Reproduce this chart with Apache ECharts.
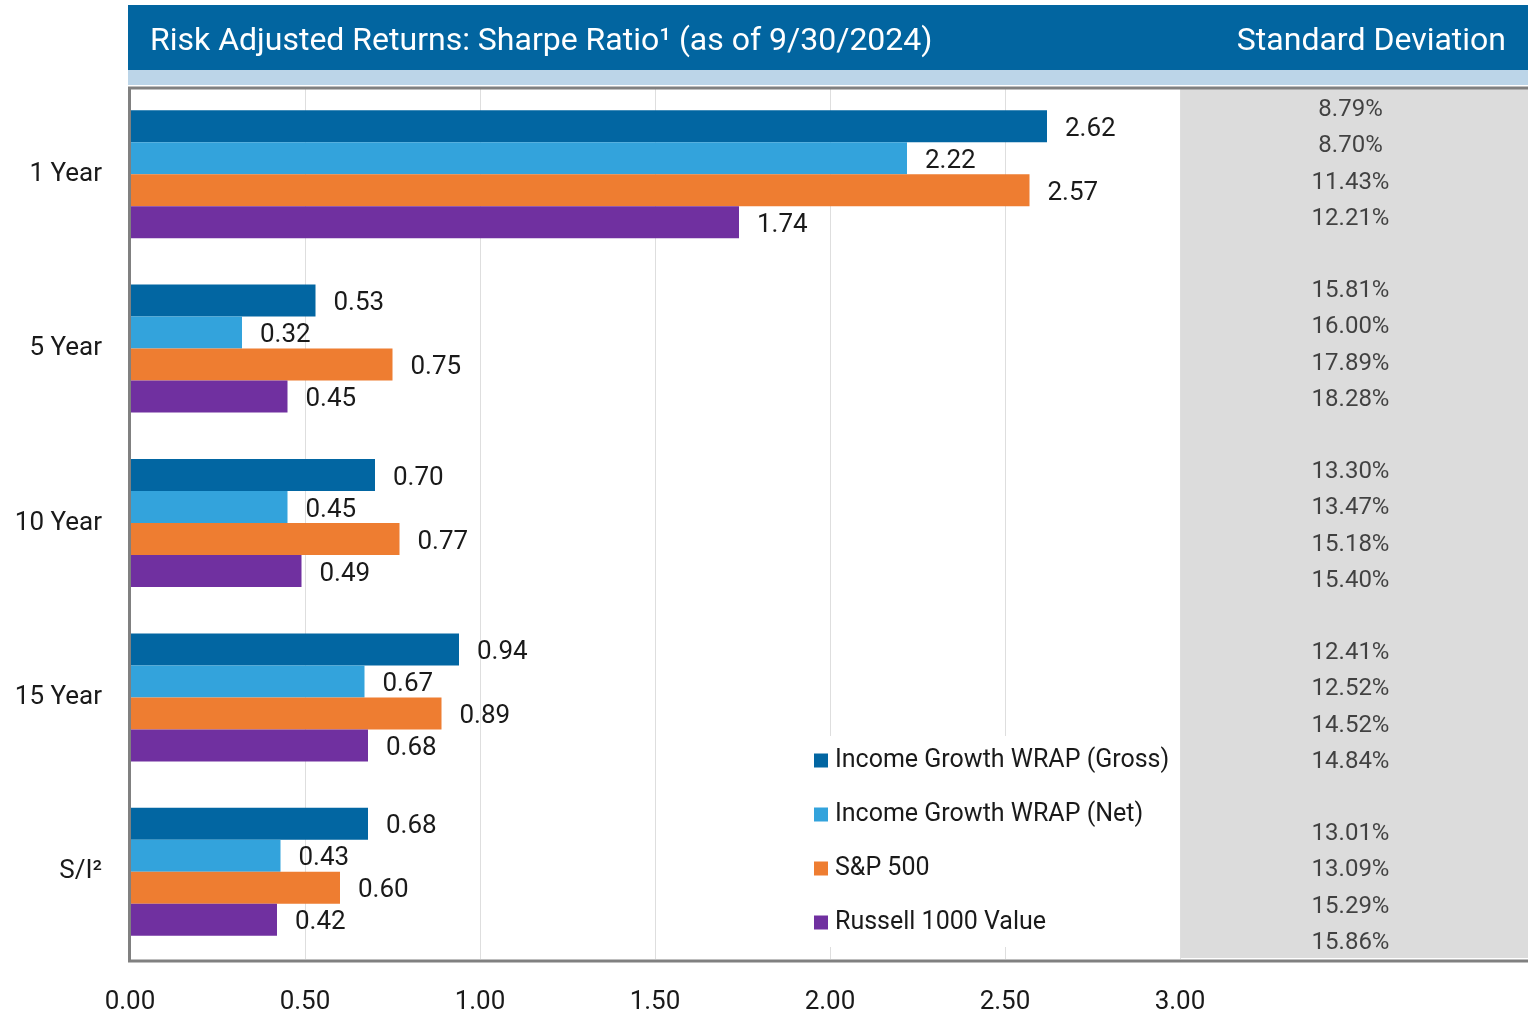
<!DOCTYPE html>
<html>
<head>
<meta charset="utf-8">
<style>
  html, body { margin: 0; padding: 0; background: #fff; }
  #chart { width: 1528px; height: 1015px; }
</style>
<script src="https://cdn.jsdelivr.net/npm/echarts@6/dist/echarts.min.js"></script>
</head>
<body>
<div id="chart"></div>
<script>
  // periods, top to bottom
  var categories = ['1 Year', '5 Year', '10 Year', '15 Year', 'S/I²']
  var seriesNames = ['Income Growth WRAP (Gross)', 'Income Growth WRAP (Net)', 'S&P 500', 'Russell 1000 Value']
  var colors = ['#0266a2', '#33a3dc', '#ee7d31', '#7030a0']

  // sharpe ratio
  var sharpeGross = [2.62, 0.53, 0.70, 0.94, 0.68]
  var sharpeNet = [2.22, 0.32, 0.45, 0.67, 0.43]
  var sharpeSP = [2.57, 0.75, 0.77, 0.89, 0.60]
  var sharpeRussell = [1.74, 0.45, 0.49, 0.68, 0.42]

  // standard deviation (%)
  var stdGross = [8.79, 15.81, 13.30, 12.41, 13.01]
  var stdNet = [8.70, 16.00, 13.47, 12.52, 13.09]
  var stdSP = [11.43, 17.89, 15.18, 14.52, 15.29]
  var stdRussell = [12.21, 18.28, 15.40, 14.84, 15.86]

  var xTicks = [0, 0.5, 1, 1.5, 2, 2.5, 3]

  var sharpe = [sharpeGross, sharpeNet, sharpeSP, sharpeRussell]
  var stdDev = [stdGross, stdNet, stdSP, stdRussell]

  var font = 'Roboto, "Noto Sans", sans-serif'
  var chart = echarts.init(document.getElementById('chart'))

  // right column: 4 values per period, one blank row between periods
  var slots = []
  var stdPoints = []
  categories.forEach(function(c, ci) {
    var n = ci < categories.length - 1 ? 5 : 4
    for (var k = 0; k < n; k++) slots.push(c + '_' + k)
    stdDev.forEach(function(arr, si) {
      stdPoints.push({ value: [0.49, ci * 5 + si], txt: arr[ci].toFixed(2) + '%' })
    })
  })

  var barSeries = sharpe.map(function(arr, i) {
    return {
      name: seriesNames[i],
      type: 'bar',
      xAxisIndex: 0,
      yAxisIndex: 0,
      barWidth: 32,
      barGap: '0%',
      itemStyle: { color: colors[i] },
      label: {
        show: true,
        position: 'right',
        distance: 18,
        offset: [0, 3],
        fontFamily: font,
        fontSize: 26,
        color: '#1a1a1a',
        formatter: function(p) { return p.value.toFixed(2) }
      },
      data: arr
    }
  })

  chart.setOption({
    animation: false,
    textStyle: { fontFamily: font },
    graphic: [
      { type: 'rect', shape: { x: 128, y: 5, width: 1400, height: 65 }, style: { fill: '#0265a0' }, z: 10 },
      { type: 'rect', shape: { x: 128, y: 70, width: 1400, height: 15 }, style: { fill: '#bcd5e8' }, z: 10 },
      {
        type: 'text', left: 150, top: 26, z: 11,
        style: { text: 'Risk Adjusted Returns: Sharpe Ratio¹ (as of 9/30/2024)', fill: '#fff', font: '32px ' + font }
      },
      {
        type: 'text', right: 22, top: 26, z: 11,
        style: { text: 'Standard Deviation', fill: '#fff', font: '32px ' + font }
      },
      {
        type: 'polyline', z: 20,
        shape: { points: [[1528, 88], [129.5, 88], [129.5, 961], [1528, 961]] },
        style: { stroke: '#808080', lineWidth: 3, fill: null }
      }
    ],
    legend: {
      data: seriesNames,
      orient: 'vertical',
      left: 800,
      top: 736,
      padding: [12, 4, 12, 14],
      backgroundColor: '#fff',
      itemWidth: 14,
      itemHeight: 14,
      itemGap: 29,
      icon: 'rect',
      textStyle: { fontFamily: font, fontSize: 25, color: '#1a1a1a', padding: [0, 0, 0, 2] },
      z: 5
    },
    grid: [
      { left: 130, top: 87, width: 1050, height: 874 },
      { left: 1180, top: 89, width: 348, height: 869, show: true, backgroundColor: '#dcdcdc', borderWidth: 0 }
    ],
    xAxis: [
      {
        gridIndex: 0,
        type: 'value',
        min: xTicks[0],
        max: xTicks[xTicks.length - 1],
        interval: 0.5,
        axisLine: { show: false },
        axisTick: { show: false },
        splitLine: { show: true, lineStyle: { color: '#dedede', width: 1 } },
        axisLabel: {
          fontFamily: font, fontSize: 26, color: '#1a1a1a', margin: 30,
          formatter: function(v) { return v.toFixed(2) }
        }
      },
      { gridIndex: 1, type: 'value', min: 0, max: 1, show: false }
    ],
    yAxis: [
      {
        gridIndex: 0,
        type: 'category',
        inverse: true,
        data: categories,
        axisLine: { show: false },
        axisTick: { show: false },
        axisLabel: { fontFamily: font, fontSize: 26, color: '#1a1a1a', margin: 28, padding: [4, 0, 0, 0] }
      },
      { gridIndex: 1, type: 'category', inverse: true, data: slots, show: false }
    ],
    series: barSeries.concat([{
      name: 'stddev',
      type: 'scatter',
      xAxisIndex: 1,
      yAxisIndex: 1,
      symbolSize: 1,
      itemStyle: { color: 'rgba(0,0,0,0)' },
      label: {
        show: true,
        position: 'inside',
        offset: [0, 3],
        fontFamily: font,
        fontSize: 24,
        color: '#1a1a1a',
        formatter: function(p) { return p.data.txt }
      },
      data: stdPoints
    }])
  })
</script>
</body>
</html>
